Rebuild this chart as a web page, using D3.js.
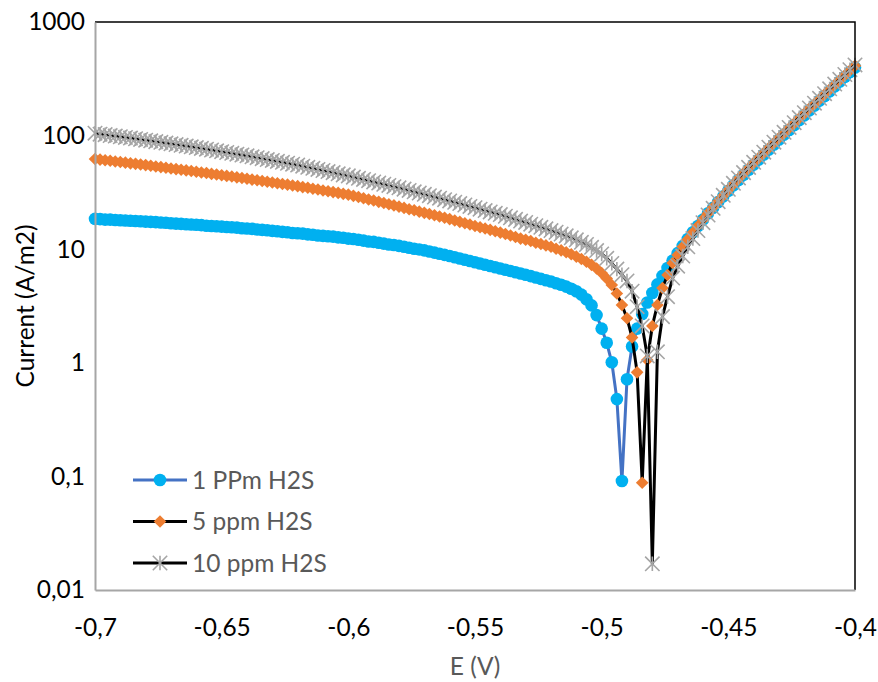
<!DOCTYPE html>
<html lang="en">
<head>
<meta charset="utf-8">
<title>polarization curves</title>
<script src="https://d3js.org/d3.v7.min.js"></script>
<style>
  body { margin: 0; background: #fff; }
  svg text { font-family: Lato, "Open Sans", sans-serif; }
</style>
</head>
<body>
<script>
// potential E (V), one reading every 2 mV
var potential = [
  -0.700,-0.698,-0.696,-0.694,-0.692,-0.690,-0.688,-0.686,-0.684,-0.682,
  -0.680,-0.678,-0.676,-0.674,-0.672,-0.670,-0.668,-0.666,-0.664,-0.662,
  -0.660,-0.658,-0.656,-0.654,-0.652,-0.650,-0.648,-0.646,-0.644,-0.642,
  -0.640,-0.638,-0.636,-0.634,-0.632,-0.630,-0.628,-0.626,-0.624,-0.622,
  -0.620,-0.618,-0.616,-0.614,-0.612,-0.610,-0.608,-0.606,-0.604,-0.602,
  -0.600,-0.598,-0.596,-0.594,-0.592,-0.590,-0.588,-0.586,-0.584,-0.582,
  -0.580,-0.578,-0.576,-0.574,-0.572,-0.570,-0.568,-0.566,-0.564,-0.562,
  -0.560,-0.558,-0.556,-0.554,-0.552,-0.550,-0.548,-0.546,-0.544,-0.542,
  -0.540,-0.538,-0.536,-0.534,-0.532,-0.530,-0.528,-0.526,-0.524,-0.522,
  -0.520,-0.518,-0.516,-0.514,-0.512,-0.510,-0.508,-0.506,-0.504,-0.502,
  -0.500,-0.498,-0.496,-0.494,-0.492,-0.490,-0.488,-0.486,-0.484,-0.482,
  -0.480,-0.478,-0.476,-0.474,-0.472,-0.470,-0.468,-0.466,-0.464,-0.462,
  -0.460,-0.458,-0.456,-0.454,-0.452,-0.450,-0.448,-0.446,-0.444,-0.442,
  -0.440,-0.438,-0.436,-0.434,-0.432,-0.430,-0.428,-0.426,-0.424,-0.422,
  -0.420,-0.418,-0.416,-0.414,-0.412,-0.410,-0.408,-0.406,-0.404,-0.402,
  -0.400
];

// current (A/m2) for each potential
var ppm1 = [
  18.5,18.4,18.2,18.2,18.1,18.0,17.9,17.8,17.7,17.6,
  17.5,17.4,17.3,17.2,17.1,16.9,16.8,16.7,16.6,16.5,
  16.4,16.3,16.1,16.0,15.9,15.8,15.7,15.6,15.5,15.3,
  15.2,15.1,14.9,14.8,14.7,14.5,14.4,14.2,14.1,13.9,
  13.8,13.7,13.5,13.4,13.2,13.1,13.0,12.9,12.7,12.6,
  12.4,12.3,12.1,11.9,11.7,11.6,11.4,11.2,11.0,10.9,
  10.7,10.5,10.3,10.1,9.95,9.77,9.55,9.33,9.12,8.91,
  8.71,8.49,8.28,8.07,7.87,7.67,7.48,7.29,7.11,6.93,
  6.76,6.59,6.43,6.27,6.11,5.96,5.79,5.64,5.48,5.33,
  5.19,5.02,4.86,4.68,4.48,4.27,3.98,3.63,3.20,2.63,
  2.00,1.50,1.01,0.479,0.091,0.716,1.39,2.00,2.69,3.39,
  4.12,4.90,5.82,6.84,7.94,9.23,10.7,12.3,14.1,16.0,
  18.2,20.7,23.2,26.0,29.2,32.7,36.5,40.6,45.1,50.0,
  55.5,61.5,68.1,75.3,83.4,92.3,102,112,124,137,
  151,167,184,203,223,246,271,299,329,362,
  398
];
var ppm5 = [
  62.2,61.5,60.7,60.0,59.2,58.5,57.8,57.0,56.4,55.6,
  55.0,54.2,53.5,52.8,52.1,51.4,50.7,50.0,49.4,48.8,
  48.1,47.4,46.8,46.0,45.4,44.8,44.2,43.6,42.9,42.3,
  41.7,41.0,40.5,39.8,39.3,38.6,38.1,37.5,37.0,36.4,
  35.9,35.2,34.7,34.0,33.5,32.9,32.4,31.8,31.3,30.7,
  30.2,29.5,28.8,28.1,27.4,26.8,26.1,25.5,24.9,24.3,
  23.7,23.1,22.5,22.0,21.4,20.9,20.4,19.9,19.4,18.9,
  18.4,17.9,17.4,16.9,16.5,16.0,15.6,15.2,14.8,14.4,
  14.0,13.6,13.2,12.8,12.4,12.1,11.8,11.4,11.1,10.8,
  10.5,10.1,9.77,9.40,9.02,8.61,8.20,7.76,7.28,6.76,
  6.17,5.52,4.84,4.07,3.23,2.47,1.67,0.824,0.088,1.06,
  2.11,3.23,4.55,5.93,7.57,8.89,10.5,12.2,14.0,16.0,
  18.3,20.7,23.4,26.4,29.6,33.3,37.3,41.7,46.5,51.6,
  57.3,63.5,70.3,77.8,86.1,95.3,105,116,128,142,
  156,173,190,209,231,254,280,308,340,374,
  412
];
var ppm10 = [
  105,103,102,100,99.1,97.7,96.4,95.1,93.8,92.5,
  91.2,89.9,88.5,87.2,85.9,84.6,83.4,82.1,80.9,79.7,
  78.5,77.2,75.9,74.7,73.4,72.2,71.0,69.8,68.6,67.5,
  66.4,65.1,63.9,62.7,61.5,60.4,59.3,58.2,57.1,56.0,
  55.0,53.8,52.6,51.5,50.4,49.3,48.2,47.2,46.1,45.1,
  44.2,43.1,42.1,41.1,40.1,39.1,38.2,37.3,36.4,35.5,
  34.7,33.8,32.9,32.0,31.2,30.4,29.6,28.8,28.1,27.3,
  26.6,25.9,25.2,24.5,23.8,23.2,22.5,21.9,21.3,20.7,
  20.2,19.5,18.9,18.3,17.7,17.2,16.6,16.1,15.6,15.1,
  14.6,14.1,13.6,13.1,12.6,12.1,11.5,11.0,10.4,9.73,
  9.08,8.32,7.50,6.68,5.96,5.25,4.27,3.12,2.11,1.15,
  0.017,1.25,2.55,3.82,5.57,7.08,8.71,10.5,12.4,14.6,
  17.1,20.0,22.9,26.2,29.8,33.7,38.0,42.4,47.2,52.5,
  58.2,64.6,71.4,79.1,87.5,96.8,107,118,130,144,
  159,175,193,213,234,258,284,313,345,380,
  419
];

var seriesNames = ["1 PPm H2S", "5 ppm H2S", "10 ppm H2S"];
var xTicks = [-0.7, -0.65, -0.6, -0.55, -0.5, -0.45, -0.4];
var yTicks = [0.01, 0.1, 1, 10, 100, 1000];

var width = 878, height = 682;
var margin = {top: 22, right: 23, bottom: 92, left: 95};
var plotW = width - margin.left - margin.right;   // 760
var plotH = height - margin.top - margin.bottom;  // 568

var x = d3.scaleLinear().domain([-0.7, -0.4]).range([margin.left, margin.left + plotW]);
var y = d3.scaleLog().domain([0.01, 1000]).range([margin.top + plotH, margin.top]);

// decimal comma like the original
var comma = function(v) { return String(v).replace(".", ","); };

var svg = d3.select("body").append("svg")
    .attr("width", width)
    .attr("height", height);

svg.append("rect").attr("width", width).attr("height", height).attr("fill", "#fff");

// series styles
var series = [
  {name: seriesNames[0], values: ppm1, line: "#4472C4", fill: "#00B0F0", shape: "circle"},
  {name: seriesNames[1], values: ppm5, line: "#000000", fill: "#ED7D31", shape: "diamond"},
  {name: seriesNames[2], values: ppm10, line: "#000000", fill: "#A5A5A5", shape: "star"}
];

function drawMarker(g, shape, fill) {
  if (shape == "circle") {
    g.append("circle").attr("r", 6.3).attr("fill", fill);
  } else if (shape == "diamond") {
    var s = 6.3;
    g.append("path").attr("d", "M0," + (-s) + "L" + s + ",0L0," + s + "L" + (-s) + ",0Z").attr("fill", fill);
  } else {
    var t = 7.2;
    g.append("path")
      .attr("d", "M" + (-t) + "," + (-t) + "L" + t + "," + t + "M" + (-t) + "," + t + "L" + t + "," + (-t) + "M0," + (-t) + "L0," + t)
      .attr("fill", "none").attr("stroke", fill).attr("stroke-width", 1.6);
  }
}

var line = d3.line()
    .x(function(d) { return x(d[0]); })
    .y(function(d) { return y(d[1]); });

series.forEach(function(s) {
  var pts = potential.map(function(e, i) { return [e, s.values[i]]; });
  var g = svg.append("g");
  g.append("path").datum(pts)
    .attr("d", line)
    .attr("fill", "none")
    .attr("stroke", s.line)
    .attr("stroke-width", 3)
    .attr("stroke-linejoin", "round");
  g.selectAll(".pt").data(pts).enter().append("g")
    .attr("class", "pt")
    .attr("transform", function(d) { return "translate(" + x(d[0]) + "," + y(d[1]) + ")"; })
    .each(function() { drawMarker(d3.select(this), s.shape, s.fill); });
});

// plot area border (top / right) in black
svg.append("path")
  .attr("d", "M" + margin.left + "," + margin.top + "H" + (margin.left + plotW) + "V" + (margin.top + plotH))
  .attr("fill", "none").attr("stroke", "#000").attr("stroke-width", 1.5);

// axes
var xAxis = d3.axisBottom(x).tickValues(xTicks).tickFormat(comma).tickSize(0).tickPadding(29);
var yAxis = d3.axisLeft(y).tickValues(yTicks).tickFormat(comma).tickSize(0).tickPadding(10);

var gx = svg.append("g").attr("transform", "translate(0," + (margin.top + plotH) + ")").call(xAxis);
var gy = svg.append("g").attr("transform", "translate(" + margin.left + ",0)").call(yAxis);

[gx, gy].forEach(function(g) {
  g.select(".domain").attr("stroke", "#A6A6A6").attr("stroke-width", 2);
  g.selectAll("text").attr("font-size", 24.5).attr("fill", "#000")
    .style("font-family", "Lato, 'Open Sans', sans-serif");
});

// axis titles
svg.append("text")
  .attr("x", margin.left + plotW / 2)
  .attr("y", 675)
  .attr("text-anchor", "middle")
  .attr("font-size", 24.5)
  .attr("fill", "#595959")
  .text("E (V)");

svg.append("text")
  .attr("transform", "translate(34," + (margin.top + plotH / 2) + ") rotate(-90)")
  .attr("text-anchor", "middle")
  .attr("font-size", 24.5)
  .attr("fill", "#000")
  .text("Current (A/m2)");

// legend
var legend = svg.append("g");
var rowY = [480, 521.5, 563];
series.forEach(function(s, i) {
  var row = legend.append("g").attr("transform", "translate(0," + rowY[i] + ")");
  row.append("line").attr("x1", 133).attr("x2", 187).attr("y1", 0).attr("y2", 0)
    .attr("stroke", s.line).attr("stroke-width", 3);
  var m = row.append("g").attr("transform", "translate(160,0)");
  drawMarker(m, s.shape, s.fill);
  row.append("text").attr("x", 192).attr("y", 0).attr("dy", "0.35em")
    .attr("font-size", 24.5).attr("fill", "#595959")
    .text(s.name);
});
</script>
</body>
</html>
